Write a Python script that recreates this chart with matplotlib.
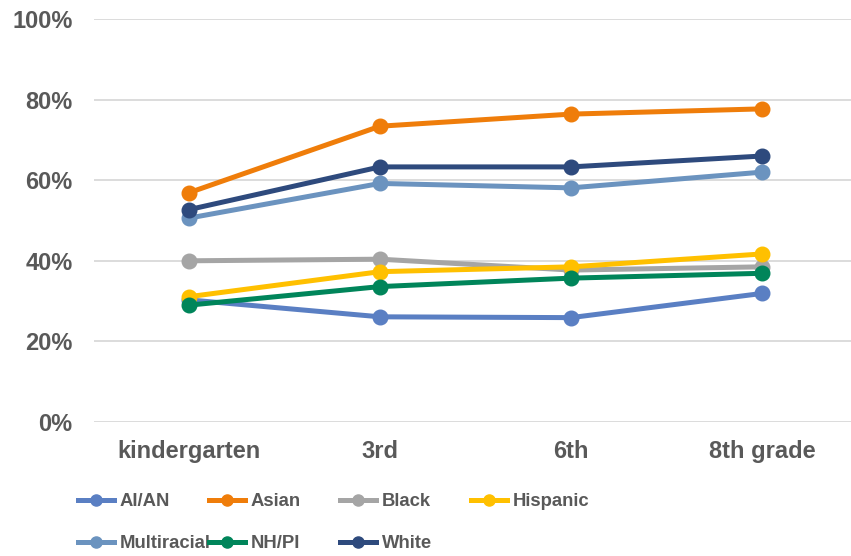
import matplotlib.pyplot as plt
from matplotlib.lines import Line2D
import numpy as np

plt.rcParams['font.family'] = ['Liberation Sans', 'DejaVu Sans']

grades = ['kindergarten', '3rd', '6th', '8th grade']
groups = ['AI/AN', 'Asian', 'Black', 'Hispanic', 'Multiracial', 'NH/PI', 'White']
ai_an = [30.3, 26.1, 25.9, 31.9]
asian = [56.9, 73.4, 76.4, 77.7]
black = [40.0, 40.4, 37.7, 38.5]
hispanic = [31.1, 37.3, 38.5, 41.7]
multiracial = [50.6, 59.2, 58.1, 62.0]
nh_pi = [29.0, 33.6, 35.7, 36.9]
white = [52.7, 63.3, 63.3, 66.0]
colors = ['#5A7FC3', '#EF7D0A', '#A5A5A5', '#FFC000', '#6B93BF', '#00855A', '#2E4A7D']

series = [ai_an, asian, black, hispanic, multiracial, nh_pi, white]

W, H = 851, 556
fig, ax = plt.subplots(figsize=(W / 100, H / 100), dpi=100)
fig.subplots_adjust(left=93.5 / W, right=857.5 / W, top=1 - 19 / H, bottom=1 - 422 / H)

x = np.arange(len(grades))
for name, vals, c in zip(groups, series, colors):
    ax.plot(x, np.array(vals) / 100, color=c, lw=3.6, marker='o', ms=10.5,
            label=name, solid_capstyle='round')

ax.set_xlim(-0.5, 3.5)
ax.set_ylim(0, 1)
yt = np.arange(0, 1.01, 0.2)
ax.set_yticks(yt)
ax.set_yticklabels([f'{int(round(v * 100))}%' for v in yt])
ax.set_xticks(x)
ax.set_xticklabels(grades)
ax.tick_params(length=0, labelsize=17, labelcolor='#595959')
ax.tick_params(axis='y', pad=15)
ax.tick_params(axis='x', pad=13)
for lab in ax.get_xticklabels() + ax.get_yticklabels():
    lab.set_fontweight('bold')
ax.grid(axis='y', color='#D9D9D9', lw=1.3)
ax.set_axisbelow(True)
for s in ax.spines.values():
    s.set_visible(False)

# legend: 4 equal-width columns, row-major order
for i, (name, c) in enumerate(zip(groups, colors)):
    row, col = divmod(i, 4)
    h = Line2D([], [], color=c, lw=3.6, marker='o', ms=8)
    leg = fig.legend([h], [name], loc='center left',
                     bbox_to_anchor=((78 + col * 131) / W, 1 - (502 + row * 42) / H),
                     frameon=False, borderpad=0, borderaxespad=0,
                     handlelength=1.95, handletextpad=0.3,
                     prop={'size': 13.3, 'weight': 'bold'})
    for t in leg.get_texts():
        t.set_color('#595959')

plt.savefig('out.png')
